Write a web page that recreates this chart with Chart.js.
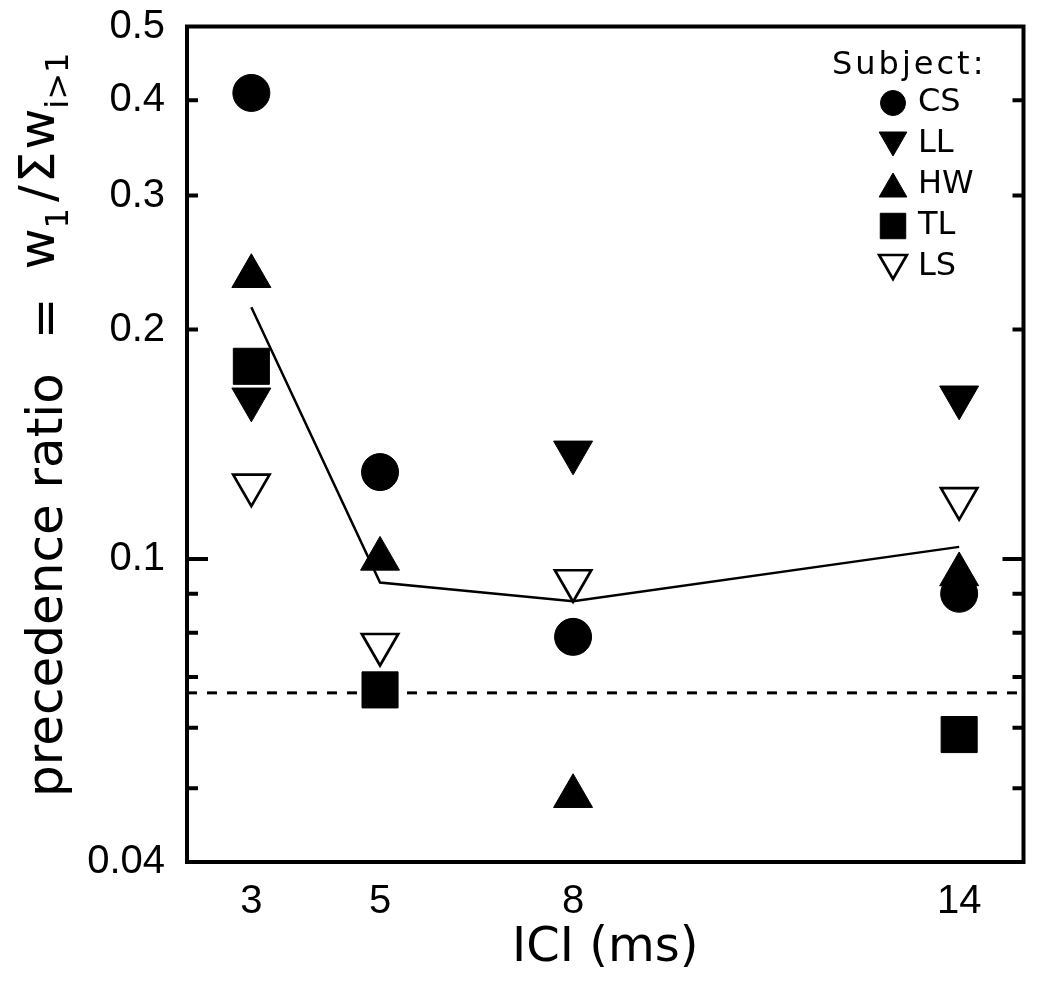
<!DOCTYPE html>
<html>
<head>
<meta charset="utf-8">
<script src="https://cdn.jsdelivr.net/npm/chart.js@4.4.0/dist/chart.umd.min.js"></script>
<style>
  html, body { margin: 0; padding: 0; background: #fff; }
  #wrap { width: 1050px; height: 982px; }
</style>
</head>
<body>
<div id="wrap"><canvas id="prec" width="1050" height="982"></canvas></div>
<script>
// values (ICI in ms, precedence ratio on a log axis)
var ici = [3, 5, 8, 14];
var csRatio = [0.409, 0.130, 0.079, 0.090];
var llRatio = [0.162, null, 0.138, 0.163];
var hwRatio = [0.235, 0.100, 0.0488, 0.0954];
var tlRatio = [0.179, 0.0673, null, 0.0588];
var lsRatio = [0.125, 0.0772, 0.0936, 0.120];
var meanRatio = [0.214, 0.0931, 0.088, 0.1037];
var chanceX = [2, 15];
var chanceRatio = [0.0667, 0.0667];

var xTicks = [3, 5, 8, 14];
var yTicks = [0.04, 0.05, 0.06, 0.07, 0.08, 0.09, 0.1, 0.2, 0.3, 0.4, 0.5];
var yLabels = [0.04, 0.1, 0.2, 0.3, 0.4, 0.5];

function pts(xs, ys) {
	var out = [];
	for (var i = 0; i < xs.length; i++) {
		if (ys[i] != null) out.push({x: xs[i], y: ys[i]});
	}
	return out;
}

function subject(name, ys, style, rot, r, fill, bw) {
	return {
		label: name,
		key: true,
		data: pts(ici, ys),
		pointStyle: style,
		pointRotation: rot,
		pointRadius: r,
		pointHoverRadius: r,
		pointBackgroundColor: fill,
		pointBorderColor: '#000',
		pointBorderWidth: bw,
		showLine: false
	};
}

// frame + inside tick marks on both sides
var framePlugin = {
	id: 'frame',
	afterDatasetsDraw: function(chart) {
		var a = chart.chartArea, y = chart.scales.y, ctx = chart.ctx;
		ctx.save();
		ctx.strokeStyle = '#000';
		ctx.lineWidth = 4;
		ctx.strokeRect(a.left, a.top, a.right - a.left, a.bottom - a.top);
		yTicks.forEach(function(v) {
			if (v === 0.04 || v === 0.5) return;
			var py = y.getPixelForValue(v);
			var len = v === 0.1 ? 21 : 11;
			ctx.beginPath();
			ctx.moveTo(a.left, py); ctx.lineTo(a.left + len, py);
			ctx.moveTo(a.right - len, py); ctx.lineTo(a.right, py);
			ctx.stroke();
		});
		ctx.restore();
	}
};

// rotated y title with subscripts
var yTitlePlugin = {
	id: 'yTitle',
	afterDraw: function(chart) {
		var ctx = chart.ctx;
		var big = '50px "DejaVu Sans"', small = '32px "DejaVu Sans"';
		var pos = 0;
		function put(txt, font, dy, gap) {
			ctx.font = font;
			ctx.fillText(txt, pos, dy);
			pos += ctx.measureText(txt).width + gap;
		}
		ctx.save();
		ctx.translate(62, 797);
		ctx.rotate(-Math.PI / 2);
		ctx.fillStyle = '#000';
		ctx.textAlign = 'left';
		ctx.textBaseline = 'alphabetic';
		put('precedence ratio', big, 0, 34);
		put('=', big, 0, 28);
		put('w', big, -8, 0);
		put('1', small, 6, 6);
		put('/', big, -8, 2);
		put('\u03A3', big, -8, 2);
		put('w', big, -8, 0);
		put('i>1', small, 6, 0);
		ctx.restore();
	}
};

// "Subject:" key in the upper right corner
var keyPlugin = {
	id: 'subjectKey',
	afterDraw: function(chart) {
		var ctx = chart.ctx;
		var sizes = {circle: 12.5, triangle: 16, rect: 18};
		ctx.save();
		ctx.fillStyle = '#000';
		ctx.textBaseline = 'middle';
		ctx.textAlign = 'left';
		ctx.font = '32px "DejaVu Sans"';
		ctx.letterSpacing = '3px';
		ctx.fillText('Subject:', 832, 66);
		ctx.letterSpacing = '0px';
		var row = 0;
		chart.data.datasets.forEach(function(ds) {
			if (!ds.key) return;
			var cy = 103 + row * 41;
			var my = cy;
			if (ds.pointStyle === 'triangle') my += ds.pointRotation ? -4 : 4;
			ctx.fillStyle = ds.pointBackgroundColor;
			ctx.strokeStyle = '#000';
			ctx.lineWidth = ds.pointBorderWidth;
			Chart.helpers.drawPoint(ctx, {
				pointStyle: ds.pointStyle,
				rotation: ds.pointRotation,
				radius: sizes[ds.pointStyle],
				borderWidth: ds.pointBorderWidth
			}, 893, my);
			ctx.fillStyle = '#000';
			ctx.fillText(ds.label, 918, cy);
			row++;
		});
		ctx.restore();
	}
};

var ctx = document.getElementById('prec');
var myChart = new Chart(ctx, {
	type: 'scatter',
	data: {
		datasets: [
			subject('CS', csRatio, 'circle', 0, 18.5, '#000', 1),
			subject('LL', llRatio, 'triangle', 180, 22.5, '#000', 1),
			subject('HW', hwRatio, 'triangle', 0, 22.5, '#000', 1),
			subject('TL', tlRatio, 'rect', 0, 25.5, '#000', 1),
			subject('LS', lsRatio, 'triangle', 180, 21, '#fff', 2.7),
			{
				label: 'mean',
				data: pts(ici, meanRatio),
				showLine: true,
				borderColor: '#000',
				borderWidth: 2.5,
				pointRadius: 0,
				order: 2
			},
			{
				label: 'chance',
				data: pts(chanceX, chanceRatio),
				showLine: true,
				borderColor: '#000',
				borderWidth: 3,
				borderDash: [10, 10],
				pointRadius: 0,
				order: 2
			}
		]
	},
	plugins: [framePlugin, yTitlePlugin, keyPlugin],
	options: {
		responsive: false,
		animation: false,
		layout: {padding: {top: 16, right: 23, left: 0, bottom: 0}},
		plugins: {
			legend: {display: false},
			tooltip: {enabled: false}
		},
		scales: {
			x: {
				type: 'linear',
				min: 2,
				max: 15,
				afterBuildTicks: function(s) {
					s.ticks = xTicks.map(function(v) { return {value: v}; });
				},
				afterFit: function(s) {
					s.height = 120;
					s.paddingLeft = 0;
					s.paddingRight = 0;
				},
				grid: {display: false},
				border: {display: false},
				ticks: {
					autoSkip: false,
					maxRotation: 0,
					padding: 8,
					color: '#000',
					font: {family: 'Liberation Sans', size: 40},
					callback: function(v) { return String(v); }
				},
				title: {
					display: true,
					text: 'ICI (ms)',
					color: '#000',
					font: {family: 'DejaVu Sans', size: 48},
					padding: {top: 0, bottom: 5}
				}
			},
			y: {
				type: 'logarithmic',
				min: 0.04,
				max: 0.5,
				afterBuildTicks: function(s) {
					s.ticks = yTicks.map(function(v) { return {value: v}; });
				},
				afterFit: function(s) {
					s.width = 187;
					s.paddingTop = 0;
					s.paddingBottom = 0;
				},
				grid: {display: false},
				border: {display: false},
				ticks: {
					autoSkip: false,
					padding: 14,
					color: '#000',
					font: {family: 'Liberation Sans', size: 40},
					callback: function(v) {
						return yLabels.indexOf(v) >= 0 ? String(v) : '';
					}
				}
			}
		}
	}
});
</script>
</body>
</html>
